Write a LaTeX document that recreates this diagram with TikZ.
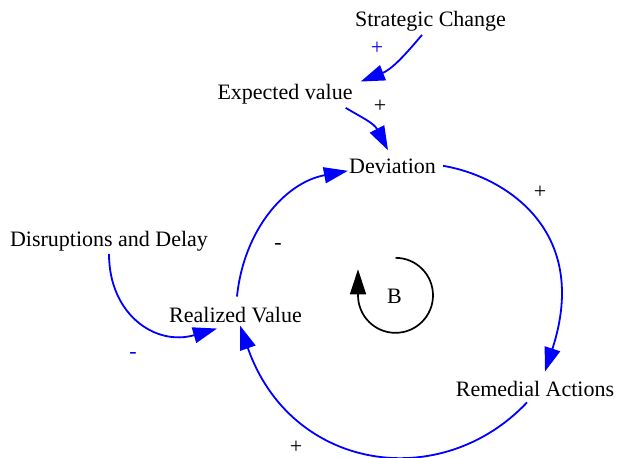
\documentclass[tikz,border=0pt]{standalone}
\usepackage{fontspec}
\setmainfont{Liberation Serif}
\usepackage{tikz}
\usetikzlibrary{arrows.meta}
\definecolor{linkc}{HTML}{0000FF}
\tikzset{
  lnk/.style={-{Triangle[length=24pt,width=16pt]},line width=1.8pt,linkc},
  loopar/.style={-{Triangle[length=25pt,width=16pt]},line width=1.7pt,black},
  var/.style={anchor=base,inner sep=3pt,font=\fontsize{22}{26}\selectfont},
  pol/.style={inner sep=0pt,font=\fontsize{22}{26}\selectfont}
}

\begin{document}
\begin{tikzpicture}[x=1pt,y=-1pt]
\useasboundingbox (0,0) rectangle (617,457);
% variables
\node[var] (sc) at (430.5,27) {Strategic Change};
\node[var] (ev) at (285,100) {Expected value};
\node[var] (dev) at (392.5,173) {Deviation};
\node[var] (dis) at (109,246) {Disruptions and Delay};
\node[var] (rv) at (235.5,322) {Realized Value};
\node[var] (ra) at (535,396) {Remedial Actions};
\node[var] (bl) at (394.5,303) {B};
% links
\draw[lnk] ([xshift=-8.5pt]sc.south) .. controls +(-12,14) and +(33,-13) .. ([xshift=5pt]ev.north east);
\draw[lnk] ([xshift=-10pt]ev.south east) .. controls +(17,10) and +(-14,-27) .. ([shift={(-4.5pt,5pt)}]dev.north);
\draw[lnk] ([xshift=4pt]dev.east) .. controls +(60,10) and +(46.5,-142.5) .. ([shift={(10pt,6pt)}]ra.north);
\draw[lnk] ([shift={(-8pt,-3pt)}]ra.south) .. controls +(-86,91) and +(51,146) .. ([xshift=4.5pt]rv.south);
\draw[lnk] ([shift={(1.5pt,7pt)}]rv.north) .. controls +(6.5,-65) and +(-64,12) .. ([shift={(2pt,-5pt)}]dev.west);
\draw[lnk] (dis.south) .. controls +(0,60) and +(-62,18) .. ([shift={(-18.5pt,-3pt)}]rv.south);
% polarities
\node[pol,linkc] (p1) at (377,48) {+};
\node[pol] (p2) at (380,106) {+};
\node[pol] (p3) at (540,192) {+};
\node[pol] (p4) at (296,447) {+};
\node[pol] (p5) at (278,246) {-};
\node[pol,linkc] (p6) at (133,355) {-};
% loop marker
\draw[loopar] (bl.center) ++(1,-38) arc[start angle=-90,end angle=180,radius=37.5] -- ++(0,-26);
\end{tikzpicture}
\end{document}
